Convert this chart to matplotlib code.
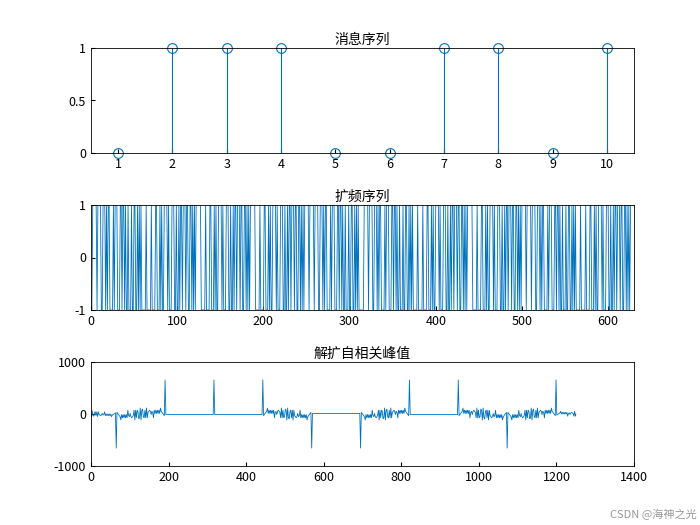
import numpy as np
import matplotlib.pyplot as plt

plt.rcParams['font.family'] = ['Noto Sans CJK SC', 'DejaVu Sans']
plt.rcParams['axes.unicode_minus'] = False

bits = [0, 1, 1, 1, 0, 0, 1, 1, 0, 1]
mseq = [1,0,0,0,0,0,1,0,0,0,0,1,1,0,0,0,1,0,1,0,0,1,1,1,1,0,1,0,0,0,1,1,1,0,0,1,
        0,0,1,0,1,1,0,1,1,1,0,1,1,0,0,1,1,0,1,0,1,0,1,1,1,1,1]
corr_scale = 5.2

c = 2*np.array(mseq) - 1
spread = np.concatenate([(2*b-1)*c for b in bits])
rx = np.repeat(spread, 2)
code2 = np.repeat(c, 2)
corr = np.correlate(rx, code2, mode='full')[61:61+1250] * corr_scale

col = '#0072BD'
fig = plt.figure(figsize=(7, 5.25), dpi=100)
W, H = 700, 525
def ax_at(l, t, r, b):
    return fig.add_axes([l/W, 1-b/H, (r-l)/W, (b-t)/H])

def style(ax):
    ax.tick_params(direction='in', labelsize=9, length=3, top=False, right=False)
    for s in ax.spines.values():
        s.set_linewidth(0.6)

ax1 = ax_at(91, 48, 634, 153)
x = np.arange(1, len(bits)+1)
ax1.vlines(x, 0, bits, color=col, lw=0.8)
ax1.plot(x, bits, 'o', mfc='none', mec=col, ms=7, mew=0.8, clip_on=False)
ax1.set_xlim(0.5, 10.5); ax1.set_ylim(0, 1)
ax1.set_xticks(x); ax1.set_yticks([0, 0.5, 1]); ax1.set_yticklabels(['0', '0.5', '1'])
ax1.set_title('消息序列', fontsize=10, pad=3)
style(ax1)

ax2 = ax_at(91, 205, 634, 310)
ax2.plot(np.arange(1, len(spread)+1), spread, color=col, lw=0.6)
ax2.set_xlim(0, 630); ax2.set_ylim(-1, 1)
ax2.set_yticks([-1, 0, 1]); ax2.set_xticks(range(0, 601, 100))
ax2.set_title('扩频序列', fontsize=10, pad=3)
style(ax2)

ax3 = ax_at(91, 362, 634, 466)
ax3.plot(np.arange(1, len(corr)+1), corr, color=col, lw=0.6)
ax3.set_xlim(0, 1400); ax3.set_ylim(-1000, 1000)
ax3.set_yticks([-1000, 0, 1000]); ax3.set_xticks(range(0, 1401, 200))
ax3.set_title('解扩自相关峰值', fontsize=10, pad=3)
style(ax3)

fig.text(0.995, 0.01, 'CSDN @海神之光', ha='right', va='bottom', fontsize=8, color='#999999')
fig.savefig('out.png', dpi=100)
